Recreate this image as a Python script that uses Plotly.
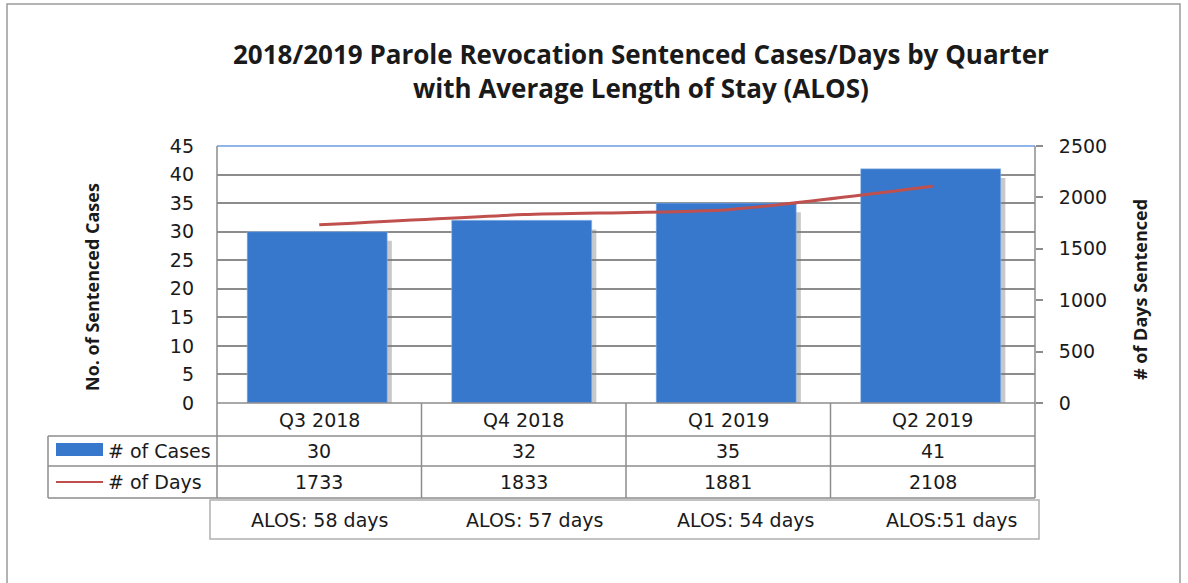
import plotly.graph_objects as go

quarters = ["Q3 2018", "Q4 2018", "Q1 2019", "Q2 2019"]
cases = [30, 32, 35, 41]
days = [1733, 1833, 1881, 2108]
alos_labels = ["ALOS: 58 days", "ALOS: 57 days", "ALOS: 54 days", "ALOS:51 days"]
left_ticks = [0, 5, 10, 15, 20, 25, 30, 35, 40, 45]
right_ticks = [0, 500, 1000, 1500, 2000, 2500]

W, H = 1188, 583
L, R, T, B = 217, 1035, 146, 403
PW, PH = R - L, B - T

def px(x):
    return (x - L) / PW

def py(y):
    return (B - y) / PH

BAR = "#3878CC"
LINE = "#C0504D"
GRID = "#8C8C8C"
TXT = "#1a1a1a"
TFONT = "DejaVu Sans"
NFONT = "Open Sans, sans-serif"
FS = 19

fig = go.Figure()

# shadow behind bars
fig.add_trace(go.Bar(x=quarters, y=cases, base=-1.6, width=0.685, offset=-0.33,
                     marker=dict(color="rgba(120,120,120,0.4)", line=dict(width=0)),
                     hoverinfo="skip", showlegend=False))
fig.add_trace(go.Bar(x=quarters, y=cases, width=0.685, offset=-0.3525,
                     marker=dict(color=BAR, line=dict(width=0.5, color="#9cc0ee")),
                     name="# of Cases", showlegend=False))
fig.add_trace(go.Scatter(x=quarters, y=days, yaxis="y2", mode="lines",
                         line=dict(color=LINE, width=3, shape="spline", smoothing=0.6),
                         name="# of Days", showlegend=False))

fig.update_layout(
    width=W, height=H,
    margin=dict(l=L, r=W - R, t=T, b=H - B, pad=0),
    paper_bgcolor="white", plot_bgcolor="white",
    barmode="overlay",
    xaxis=dict(type="category", range=[-0.5, 3.5], showticklabels=False, ticks="",
               showgrid=False, showline=False, zeroline=False, fixedrange=True),
    yaxis=dict(range=[0, 45], tickvals=left_ticks, showgrid=True, gridcolor=GRID, gridwidth=1.5,
               zeroline=False, showline=False, ticks="", ticklabelstandoff=22,
               tickfont=dict(family=TFONT, size=FS, color=TXT)),
    yaxis2=dict(range=[0, 2500], tickvals=right_ticks, overlaying="y", side="right",
                showgrid=False, zeroline=False, showline=False, ticks="outside", ticklen=7,
                tickcolor=GRID, tickwidth=1.5, ticklabelstandoff=12,
                tickfont=dict(family=TFONT, size=FS, color=TXT)),
)

shapes = []
def hline(x0, x1, y, color=GRID, w=1.5):
    shapes.append(dict(type="line", xref="paper", yref="paper", x0=px(x0), x1=px(x1),
                       y0=py(y), y1=py(y), line=dict(color=color, width=w)))
def vline(x, y0, y1, color=GRID, w=1.5):
    shapes.append(dict(type="line", xref="paper", yref="paper", x0=px(x), x1=px(x),
                       y0=py(y0), y1=py(y1), line=dict(color=color, width=w)))

# outer frame
shapes.append(dict(type="rect", xref="paper", yref="paper", x0=px(7), x1=px(1180),
                   y0=py(600), y1=py(4), line=dict(color="#9a9a9a", width=1.5)))
# top plot border (blue)
hline(L, R, T, color="#6d9de0", w=1.5)
# data table
col_edges = [L + i * PW / 4 for i in range(5)]
hline(L, R, B)
for yy in (436, 466, 498):
    hline(48, R, yy)
vline(48, 436, 498)
vline(L, T, 498)
vline(R, T, 498)
for x in col_edges[1:-1]:
    vline(x, B, 498)
# legend keys
shapes.append(dict(type="rect", xref="paper", yref="paper", x0=px(56), x1=px(103),
                   y0=py(456), y1=py(443), fillcolor=BAR, line=dict(width=0)))
hline(56, 103, 482, color=LINE, w=2)
# ALOS box
shapes.append(dict(type="rect", xref="paper", yref="paper", x0=px(210), x1=px(1039),
                   y0=py(539), y1=py(500), line=dict(color="#b0b0b0", width=1.5)))
fig.update_layout(shapes=shapes)

ann = []
def text(x, y, s, size=FS, family=TFONT, bold=False, xanchor="center", angle=0, xref="paper", xshift=0):
    ann.append(dict(x=x, y=y, xref=xref, yref="paper", text=f"<b>{s}</b>" if bold else s,
                    showarrow=False, xanchor=xanchor, yanchor="middle", textangle=angle,
                    xshift=xshift, font=dict(family=family, size=size, color=TXT)))

text(px(641), py(71), "2018/2019 Parole Revocation Sentenced Cases/Days by Quarter<br>with Average Length of Stay (ALOS)",
     size=26, family=NFONT, bold=True)
text(px(92), py(287), "No. of Sentenced Cases", size=18, family=NFONT, bold=True, angle=-90)
text(px(1140), py(290), "# of Days Sentenced", size=18, family=NFONT, bold=True, angle=-90)

for i, q in enumerate(quarters):
    text(q, py(420), q, xref="x")
    text(q, py(451), str(cases[i]), xref="x")
    text(q, py(482), str(days[i]), xref="x")
alos_shift = [0, 11, 17, 19]
for i, q in enumerate(quarters):
    text(q, py(520), alos_labels[i], xref="x", xshift=alos_shift[i])
text(px(106), py(451), "# of Cases", xanchor="left")
text(px(106), py(482), "# of Days", xanchor="left")
fig.update_layout(annotations=ann)

fig.write_html("out.html", config={"displayModeBar": False},
               post_script="document.body.style.margin='0px';")
